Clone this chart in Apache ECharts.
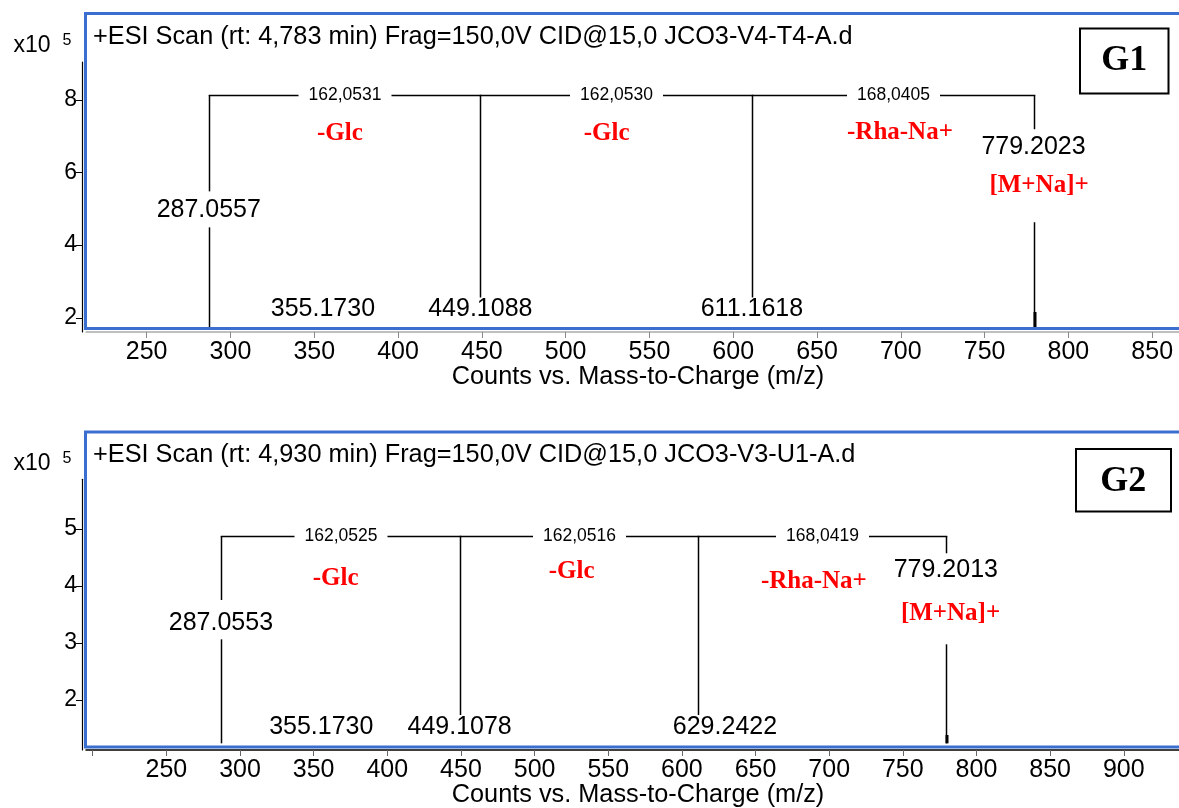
<!DOCTYPE html>
<html><head><meta charset="utf-8">
<script src="https://cdn.jsdelivr.net/npm/echarts@6/dist/echarts.min.js"></script>
<style>html,body{margin:0;padding:0;background:#fff}#c{width:1179px;height:808px}</style>
</head><body><div id="c"></div>
<script>
// ---------------- DATA ----------------
const panelTitles = [
  '+ESI Scan (rt: 4,783 min) Frag=150,0V CID@15,0 JCO3-V4-T4-A.d',
  '+ESI Scan (rt: 4,930 min) Frag=150,0V CID@15,0 JCO3-V3-U1-A.d'
];
const panelTags = ['G1', 'G2'];
const xAxisName = 'Counts vs. Mass-to-Charge (m/z)';
const yScaleLabel = 'x10';
const yScaleExp = '5';

const xTicks1 = [250, 300, 350, 400, 450, 500, 550, 600, 650, 700, 750, 800, 850];
const xTickMarks2 = [200, 250, 300, 350, 400, 450, 500, 550, 600, 650, 700, 750, 800, 850, 900];
const xTickLabels2 = [250, 300, 350, 400, 450, 500, 550, 600, 650, 700, 750, 800, 850, 900];
const yTicks1 = [2, 4, 6, 8];
const yTicks2 = [2, 3, 4, 5];

// G1 (intensity in x10^5 counts)
const g1Fragments = [287.0557, 449.1088, 611.1618, 779.2023];
const g1BracketLevel = 8.13;
const g1Diffs = ['162,0531', '162,0530', '168,0405'];
const g1Losses = ['-Glc', '-Glc', '-Rha-Na+'];
const g1LossPos = [[365.3, 7.08], [524.5, 7.08], [699.5, 7.11]];
const g1Sticks = [[287.0557, 1.74, 4.49], [287.0557, 5.48, 8.13], [449.1088, 2.56, 8.13],
                  [611.1618, 2.56, 8.13], [779.2023, 1.74, 4.63], [779.2023, 7.19, 8.13]];
const g1Peaks = [[779.2023, 1.74, 2.16]];
const g1MassTexts = ['287.0557', '355.1730', '449.1088', '611.1618', '779.2023'];
const g1MassPos = [[287.0557, 4.96], [355.1730, 2.24], [449.1088, 2.24], [611.1618, 2.24], [779.2023, 6.70]];
const g1AdductText = ['[M+Na]+'];
const g1AdductPos = [[782.5, 5.63]];

// G2
const g2Fragments = [287.0553, 449.1078, 611.1594, 779.2013];
const g2BracketLevel = 4.877;
const g2Diffs = ['162,0525', '162,0516', '168,0419'];
const g2Losses = ['-Glc', '-Glc', '-Rha-Na+'];
const g2LossPos = [[364.9, 4.135], [525.2, 4.25], [689.6, 4.075]];
const g2Sticks = [[287.0553, 1.24, 3.065], [287.0553, 3.754, 4.877], [449.1078, 1.737, 4.877],
                  [611.1594, 1.737, 4.877], [779.2013, 1.24, 2.977], [779.2013, 4.574, 4.877]];
const g2Peaks = [[779.2013, 1.24, 1.386]];
const g2MassTexts = ['287.0553', '355.1730', '449.1078', '629.2422', '779.2013'];
const g2MassPos = [[287.0553, 3.346], [355.1730, 1.532], [449.1078, 1.532], [629.2422, 1.532], [779.2013, 4.281]];
const g2AdductText = ['[M+Na]+'];
const g2AdductPos = [[782.4, 3.509]];

// ---------------- RENDER ----------------
const SANS = '"Liberation Sans", Arial, sans-serif';
const SERIF = '"Liberation Serif", "Times New Roman", serif';
const BLUE = '#3a6fd0';

function stickRender(params, api) {
  const p1 = api.coord([api.value(0), api.value(1)]);
  const p2 = api.coord([api.value(0), api.value(2)]);
  const x = Math.round(p1[0]) + 0.5;
  return {type: 'line', shape: {x1: x, y1: p1[1], x2: x, y2: p2[1]},
          style: {stroke: '#000', lineWidth: 1.5}};
}
function peakRender(params, api) {
  const p1 = api.coord([api.value(0), api.value(1)]);
  const p2 = api.coord([api.value(0), api.value(2)]);
  return {type: 'rect', shape: {x: Math.round(p1[0]) - 0.5, y: p2[1], width: 3, height: p1[1] - p2[1]},
          style: {fill: '#000'}};
}
function bracketRender(texts) {
  return function (params, api) {
    const a = api.coord([api.value(0), api.value(2)]);
    const b = api.coord([api.value(1), api.value(2)]);
    const xa = Math.round(a[0]) + 0.5, xb = Math.round(b[0]) + 0.5, y = Math.round(a[1]) + 0.5;
    return {type: 'group', children: [
      {type: 'line', shape: {x1: xa - 0.75, y1: y, x2: xb + 0.75, y2: y}, style: {stroke: '#000', lineWidth: 1.5}},
      {type: 'text', x: (xa + xb) / 2, y: y,
       style: {text: texts[params.dataIndex], font: '17.5px ' + SANS, fill: '#000',
               align: 'center', verticalAlign: 'middle', backgroundColor: '#fff', padding: [3, 10]}}
    ]};
  };
}
function textRender(texts, font, color) {
  return function (params, api) {
    const p = api.coord([api.value(0), api.value(1)]);
    return {type: 'text', x: p[0], y: p[1],
            style: {text: texts[params.dataIndex], font: font, fill: color, align: 'center', verticalAlign: 'middle'}};
  };
}
function pairs(frags, level) {
  const out = [];
  for (let i = 0; i < frags.length - 1; i++) out.push([frags[i], frags[i + 1], level]);
  return out;
}
function panelSeries(idx, sticks, peaks, frags, level, diffs, massTexts, massPos, losses, lossPos, adductText, adductPos) {
  const base = {type: 'custom', xAxisIndex: idx, yAxisIndex: idx, silent: true, animation: false, clip: false};
  return [
    Object.assign({}, base, {renderItem: stickRender, data: sticks, encode: {x: 0, y: [1, 2]}, z: 3}),
    Object.assign({}, base, {renderItem: peakRender, data: peaks, encode: {x: 0, y: [1, 2]}, z: 3}),
    Object.assign({}, base, {renderItem: bracketRender(diffs), data: pairs(frags, level), encode: {x: [0, 1], y: 2}, z: 4}),
    Object.assign({}, base, {renderItem: textRender(massTexts, '25px ' + SANS, '#000'), data: massPos, encode: {x: 0, y: 1}, z: 5}),
    Object.assign({}, base, {renderItem: textRender(losses, 'bold 25px ' + SERIF, '#ff0000'), data: lossPos, encode: {x: 0, y: 1}, z: 5}),
    Object.assign({}, base, {renderItem: textRender(adductText, 'bold 25px ' + SERIF, '#ff0000'), data: adductPos, encode: {x: 0, y: 1}, z: 5})
  ];
}

const chart = echarts.init(document.getElementById('c'), null, {renderer: 'canvas'});

const xAxisCommon = {type: 'value', splitLine: {show: false}};
const option = {
  backgroundColor: '#fff',
  animation: false,
  grid: [
    {left: 86, top: 62, width: 1093, height: 270},
    {left: 86, top: 479.3, width: 1093, height: 270.7}
  ],
  xAxis: [
    Object.assign({}, xAxisCommon, {gridIndex: 0, min: 213.8, max: 866,
      axisLine: {lineStyle: {color: '#aaaaaa', width: 1.5}},
      axisTick: {customValues: xTicks1, length: 6, lineStyle: {color: '#888'}},
      axisLabel: {customValues: xTicks1, fontSize: 25, color: '#000', fontFamily: SANS, margin: 8}}),
    Object.assign({}, xAxisCommon, {gridIndex: 1, min: 195.45, max: 937.5,
      axisLine: {lineStyle: {color: '#000', width: 1.5}},
      axisTick: {customValues: xTickMarks2, length: 6, lineStyle: {color: '#666'}},
      axisLabel: {customValues: xTickLabels2, fontSize: 25, color: '#000', fontFamily: SANS, margin: 8}})
  ],
  yAxis: [
    {type: 'value', gridIndex: 0, min: 1.61, max: 9.04, offset: 4, splitLine: {show: false},
     axisLine: {show: true, lineStyle: {color: '#000', width: 1.2}},
     axisTick: {show: true, customValues: yTicks1, length: 6, lineStyle: {color: '#000'}},
     axisLabel: {customValues: yTicks1, fontSize: 23, color: '#000', fontFamily: SANS, margin: 5}},
    {type: 'value', gridIndex: 1, min: 1.123, max: 5.872, offset: 4, splitLine: {show: false},
     axisLine: {show: true, lineStyle: {color: '#000', width: 1.2}},
     axisTick: {show: true, customValues: yTicks2, length: 6, lineStyle: {color: '#000'}},
     axisLabel: {customValues: yTicks2, fontSize: 23, color: '#000', fontFamily: SANS, margin: 5}}
  ],
  series: [].concat(
    panelSeries(0, g1Sticks, g1Peaks, g1Fragments, g1BracketLevel, g1Diffs, g1MassTexts, g1MassPos, g1Losses, g1LossPos, g1AdductText, g1AdductPos),
    panelSeries(1, g2Sticks, g2Peaks, g2Fragments, g2BracketLevel, g2Diffs, g2MassTexts, g2MassPos, g2Losses, g2LossPos, g2AdductText, g2AdductPos)
  ),
  graphic: [
    // panel frames
    {type: 'rect', z: 100, silent: true, shape: {x: 85.5, y: 13.5, width: 1120, height: 315}, style: {fill: null, stroke: BLUE, lineWidth: 3}},
    {type: 'rect', z: 100, silent: true, shape: {x: 85.5, y: 432, width: 1120, height: 315}, style: {fill: null, stroke: BLUE, lineWidth: 3}},
    // titles
    {type: 'text', z: 101, x: 93, y: 37, style: {text: panelTitles[0], font: '25.3px ' + SANS, fill: '#000', verticalAlign: 'middle'}},
    {type: 'text', z: 101, x: 93, y: 455, style: {text: panelTitles[1], font: '25.3px ' + SANS, fill: '#000', verticalAlign: 'middle'}},
    // tag boxes
    {type: 'rect', z: 101, shape: {x: 1080, y: 28.5, width: 88.5, height: 65}, style: {fill: '#fff', stroke: '#000', lineWidth: 2}},
    {type: 'text', z: 102, x: 1124.3, y: 61, style: {text: panelTags[0], font: 'bold 36px ' + SERIF, fill: '#000', align: 'center', verticalAlign: 'middle'}},
    {type: 'rect', z: 101, shape: {x: 1076, y: 449, width: 95, height: 62.5}, style: {fill: '#fff', stroke: '#000', lineWidth: 2}},
    {type: 'text', z: 102, x: 1123.3, y: 481.5, style: {text: panelTags[1], font: 'bold 36px ' + SERIF, fill: '#000', align: 'center', verticalAlign: 'middle'}},
    // y scale labels
    {type: 'text', z: 101, x: 32, y: 46, style: {text: yScaleLabel, font: '23px ' + SANS, fill: '#000', align: 'center', verticalAlign: 'middle'}},
    {type: 'text', z: 101, x: 67, y: 41, style: {text: yScaleExp, font: '16px ' + SANS, fill: '#000', align: 'center', verticalAlign: 'middle'}},
    {type: 'text', z: 101, x: 32, y: 464, style: {text: yScaleLabel, font: '23px ' + SANS, fill: '#000', align: 'center', verticalAlign: 'middle'}},
    {type: 'text', z: 101, x: 67, y: 459, style: {text: yScaleExp, font: '16px ' + SANS, fill: '#000', align: 'center', verticalAlign: 'middle'}},
    // axis names
    {type: 'text', z: 101, x: 638, y: 377, style: {text: xAxisName, font: '25.3px ' + SANS, fill: '#000', align: 'center', verticalAlign: 'middle'}},
    {type: 'text', z: 101, x: 638, y: 795, style: {text: xAxisName, font: '25.3px ' + SANS, fill: '#000', align: 'center', verticalAlign: 'middle'}}
  ]
};
chart.setOption(option);
</script>
</body></html>
